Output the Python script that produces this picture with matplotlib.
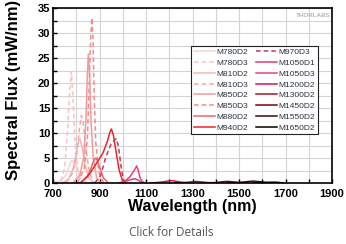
import matplotlib
matplotlib.use("Agg")
import matplotlib.pyplot as plt
from matplotlib.ticker import MultipleLocator

plt.rcParams['font.family'] = ['Liberation Sans', 'DejaVu Sans']

# series: (label, color, dashed, wavelengths, flux)
labels = ["M780D2", "M780D3", "M810D2", "M810D3", "M850D2", "M850D3", "M880D2", "M940D2",
          "M970D3", "M1050D1", "M1050D3", "M1200D2", "M1300D2", "M1450D2", "M1550D2", "M1650D2"]
colors = ["#fbd2d2", "#f9c2c2", "#f8b4b4", "#f6a6a6", "#f59a9a", "#f48a8a", "#f26464", "#f02424",
          "#c8385a", "#e03c70", "#e8407a", "#d01850", "#a01828", "#800010", "#450808", "#000000"]
dashed = [False, True, False, True, False, True, False, False,
          True, False, False, False, False, False, False, False]
xticks = [700, 900, 1100, 1300, 1500, 1700, 1900]

wl_780d2 = [700, 735, 755, 768, 780, 792, 803, 818, 835, 855]
fx_780d2 = [0, 0.4, 1.6, 3.2, 4.5, 4.2, 2.8, 1.0, 0.3, 0]
wl_780d3 = [700, 735, 750, 762, 771, 779, 787, 797, 810, 825]
fx_780d3 = [0, 0.6, 3, 10, 18, 22.3, 16, 6, 1.5, 0]
wl_810d2 = [740, 768, 788, 800, 810, 816, 826, 838, 855, 875]
fx_810d2 = [0, 0.8, 3, 6, 8.5, 8.8, 7, 3.5, 1, 0]
wl_810d3 = [755, 785, 803, 814, 822, 830, 841, 857, 878]
fx_810d3 = [0, 2, 6, 11, 13.5, 12, 7, 2, 0]
wl_850d2 = [785, 815, 832, 842, 848, 852, 857, 864, 873, 888, 905]
fx_850d2 = [0, 1.5, 5, 13, 22, 25.8, 22, 12, 5, 1, 0]
wl_850d3 = [805, 835, 848, 856, 862, 867, 872, 877, 884, 898, 918]
fx_850d3 = [0, 3, 9, 20, 29, 33, 29, 18, 8, 2, 0]
wl_880d2 = [815, 848, 864, 875, 883, 890, 901, 917, 938]
fx_880d2 = [0, 1.2, 3, 4.5, 5.0, 4.6, 3, 1, 0]
wl_940d2 = [820, 858, 885, 915, 935, 945, 951, 960, 972, 985, 1000, 1015]
fx_940d2 = [0, 1.9, 3.8, 6, 8.5, 10.2, 10.8, 9.5, 6, 2.5, 0.3, 0]
wl_970d3 = [880, 905, 928, 950, 965, 973, 982, 992, 1002, 1012]
fx_970d3 = [0, 1.5, 5.3, 7.8, 8.6, 8.9, 7.2, 3.5, 0.8, 0]
wl_1050d1 = [980, 1010, 1030, 1045, 1055, 1065, 1080, 1095]
fx_1050d1 = [0, 0.3, 0.6, 0.8, 0.8, 0.6, 0.2, 0]
wl_1050d3 = [990, 1010, 1030, 1045, 1055, 1060, 1066, 1075, 1085, 1100]
fx_1050d3 = [0, 0.4, 1.2, 2.2, 3.0, 3.4, 2.6, 1.0, 0.2, 0]
wl_1200d2 = [1120, 1160, 1190, 1205, 1215, 1235, 1260, 1290]
fx_1200d2 = [0, 0.15, 0.35, 0.47, 0.45, 0.3, 0.1, 0]
wl_1300d2 = [1220, 1270, 1300, 1315, 1330, 1360, 1400]
fx_1300d2 = [0, 0.1, 0.25, 0.3, 0.25, 0.1, 0]
wl_1450d2 = [1350, 1400, 1430, 1450, 1470, 1500, 1540]
fx_1450d2 = [0, 0.1, 0.25, 0.32, 0.25, 0.1, 0]
wl_1550d2 = [1450, 1500, 1540, 1560, 1580, 1620, 1660]
fx_1550d2 = [0, 0.1, 0.3, 0.38, 0.3, 0.1, 0]
wl_1650d2 = [1560, 1610, 1640, 1655, 1670, 1690]
fx_1650d2 = [0, 0.08, 0.15, 0.17, 0.12, 0]

wls = [wl_780d2, wl_780d3, wl_810d2, wl_810d3, wl_850d2, wl_850d3, wl_880d2, wl_940d2,
       wl_970d3, wl_1050d1, wl_1050d3, wl_1200d2, wl_1300d2, wl_1450d2, wl_1550d2, wl_1650d2]
fxs = [fx_780d2, fx_780d3, fx_810d2, fx_810d3, fx_850d2, fx_850d3, fx_880d2, fx_940d2,
       fx_970d3, fx_1050d1, fx_1050d3, fx_1200d2, fx_1300d2, fx_1450d2, fx_1550d2, fx_1650d2]

fig = plt.figure(figsize=(3.46, 2.44), dpi=100)
ax = fig.add_axes([53 / 346, 1 - 183 / 244, 279 / 346, 175 / 244])

for lab, c, d, x, y in zip(labels, colors, dashed, wls, fxs):
    if d:
        ax.plot(x, y, color=c, lw=1.1, dashes=(3, 2), label=lab)
    else:
        ax.plot(x, y, color=c, lw=1.1, label=lab)

ax.set_xlim(700, 1900)
ax.set_ylim(0, 35)
ax.set_xticks(xticks)
ax.xaxis.set_minor_locator(MultipleLocator(100))
ax.yaxis.set_major_locator(MultipleLocator(5))
ax.yaxis.set_minor_locator(MultipleLocator(2.5))
ax.grid(True, which='both', color='#d4d4d4', lw=0.8)
ax.set_axisbelow(True)
ax.tick_params(which='both', direction='in', length=3, width=1, labelsize=8, pad=2)
ax.tick_params(axis='x', pad=4.5)
for t in ax.get_xticklabels() + ax.get_yticklabels():
    t.set_fontweight('bold')
for s in ax.spines.values():
    s.set_linewidth(1.2)

ax.set_xlabel("Wavelength (nm)", fontsize=11.5, fontweight='bold', labelpad=0)
ax.set_ylabel("Spectral Flux (mW/nm)", fontsize=12, fontweight='bold')
ax.yaxis.set_label_coords(-0.115, 0.53)

ax.text(0.993, 0.957, "THORLABS", transform=ax.transAxes, ha='right', va='center',
        fontsize=4.5, fontweight='bold', color='#b4b4b4')

leg = ax.legend(ncol=2, loc='upper right', bbox_to_anchor=(0.95, 0.783), borderaxespad=0,
                fontsize=6, frameon=True, fancybox=False, framealpha=1, edgecolor='#222222',
                handlelength=2.5, handletextpad=0.2, columnspacing=1.0, labelspacing=0.35,
                borderpad=0.3)
leg.get_frame().set_linewidth(0.8)
for t in leg.get_texts():
    t.set_color('#2a3040')

fig.text(171 / 346, 1 - 232 / 244, "Click for Details", ha='center', va='center',
         fontsize=8.5, color='#555555', family=['Open Sans', 'DejaVu Sans'])

plt.savefig("out.png", dpi=100)
